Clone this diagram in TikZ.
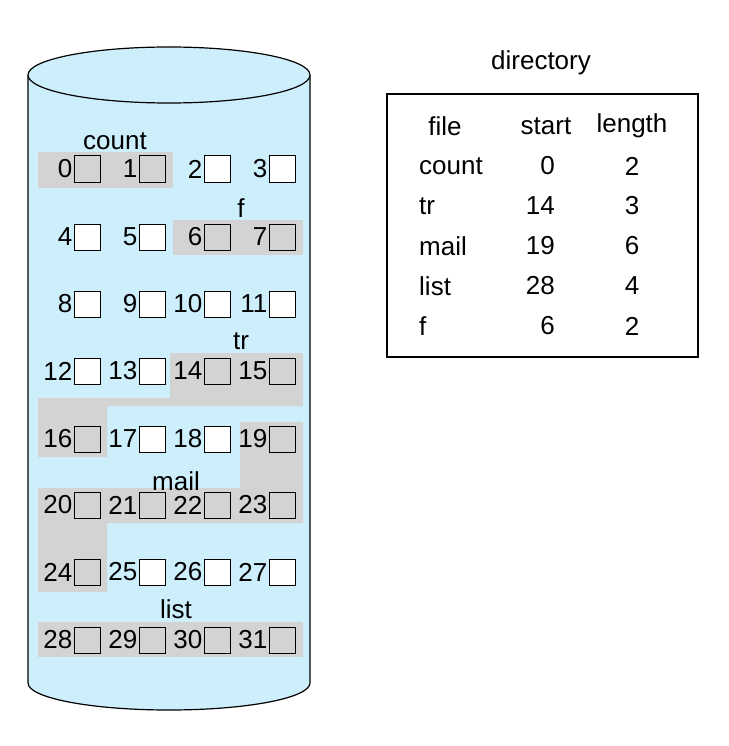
\documentclass[tikz,border=0pt]{standalone}
\usepackage{fontspec}
\setmainfont{Liberation Sans}
\definecolor{disk}{HTML}{CDEEFB}
\definecolor{usedgray}{HTML}{D3D3D3}
\begin{document}
\begin{tikzpicture}[x=1pt, y=-1pt, font=\fontsize{26}{30}\selectfont,
  blk/.style={draw, line width=1pt, minimum size=26pt, inner sep=0pt},
  blk0/.style={blk},
  blk1/.style={blk, fill=white},
  num/.style={anchor=east, inner sep=1pt},
  used/.style={fill=usedgray},
  lbl/.style={inner sep=0pt}]
\useasboundingbox (0,0) rectangle (728,746);
% disk
\draw[line width=1.2pt, fill=disk] (28,75) -- (28,683)
  arc[start angle=180, end angle=0, x radius=141, y radius=27] -- (310,75);
\draw[line width=1.2pt, fill=disk] (169,75) ellipse [x radius=141, y radius=28];
% allocated areas
\fill[used] (38,152) rectangle (173,188);
\fill[used] (173,220) rectangle (303,255);
\fill[used] (170,353) -- (303,353) -- (303,406) -- (107,406) -- (107,457)
  -- (38,457) -- (38,398) -- (170,398) -- cycle;
\fill[used] (240,422) -- (303,422) -- (303,523) -- (107,523) -- (107,592)
  -- (38,592) -- (38,488) -- (240,488) -- cycle;
\fill[used] (38,622) rectangle (303,657);
% blocks
\foreach \n in {0,...,31} {
  \pgfmathsetmacro\bx{{87,152,217,282}[mod(\n,4)]}
  \pgfmathsetmacro\by{{169,237,304,371,439,505,572,640}[int(\n/4)]}
  \pgfmathtruncatemacro\bf{{0,0,1,1,1,1,0,0,1,1,1,1,1,1,0,0,0,1,1,0,0,0,0,0,0,1,1,1,0,0,0,0}[\n]}
  \node[blk\bf] (b\n) at (\bx,\by) {};
  \node[num] (n\n) at (b\n.west) {\n};
}
% file names
\node[lbl] (lcount) at (115,141) {count};
\node[lbl] (lf) at (241,208) {f};
\node[lbl] (ltr) at (241,341) {tr};
\node[lbl] (lmail) at (176,481) {mail};
\node[lbl] (llist) at (176,609) {list};
% directory
\node[lbl] (dtitle) at (541,63) {directory};
\node[draw, line width=1.5pt, minimum width=311pt, minimum height=263pt] (dir) at (542.5,225.5) {};
\node[lbl] (hfile) at (445,126) {file};
\node[lbl] (hstart) at (546,126) {start};
\node[lbl] (hlen) at (632,126) {length};
\foreach \name/\st/\len [count=\i] in {count/0/2, tr/14/3, mail/19/6, list/28/4, f/6/2} {
  \pgfmathsetmacro\ry{126+40*\i}
  \node[lbl, anchor=west] (df\i) at (419,\ry) {\name};
  \node[lbl, anchor=east] (ds\i) at (555,\ry) {\st};
  \node[lbl] (dl\i) at (632,\ry) {\len};
}
\end{tikzpicture}
\end{document}
